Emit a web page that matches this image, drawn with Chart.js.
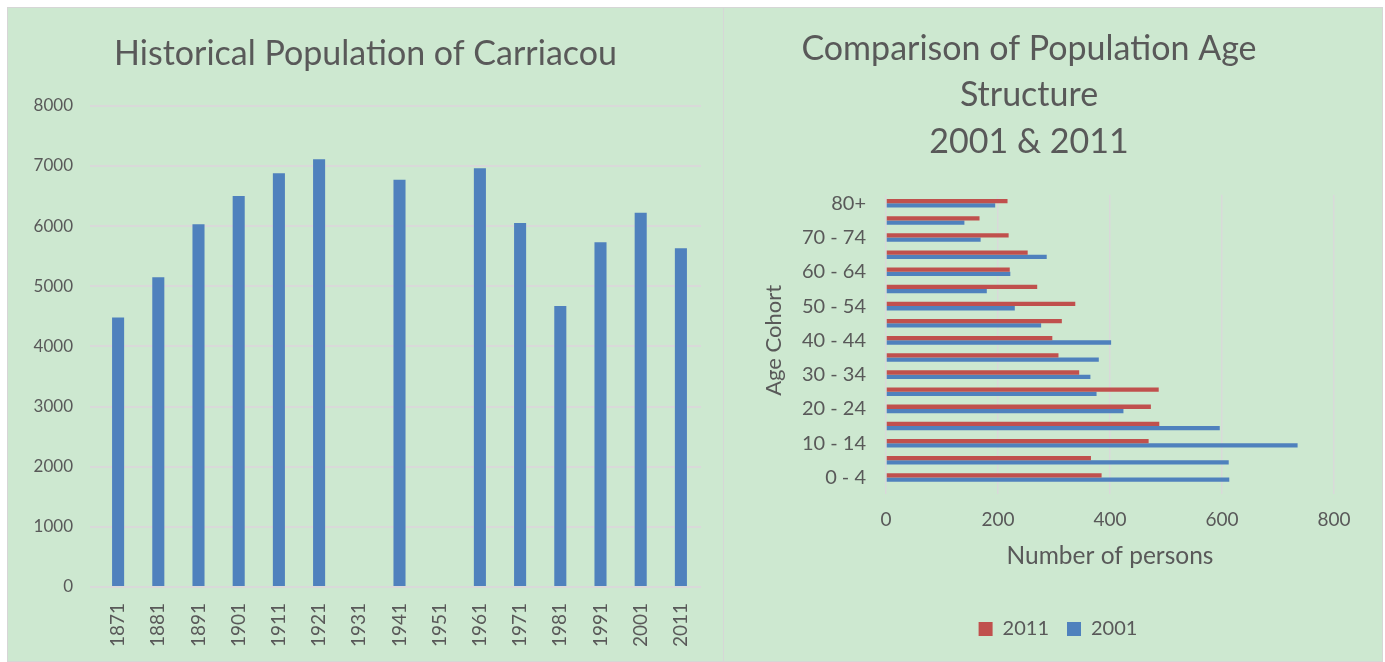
<!DOCTYPE html>
<html>
<head>
<meta charset="utf-8">
<script src="https://cdn.jsdelivr.net/npm/chart.js@4.4.0/dist/chart.umd.min.js"></script>
<style>
  body { margin: 0; background: #fff; width: 1385px; height: 662px; position: relative; overflow: hidden; }
  .panel { position: absolute; background: #cde8d0; border: 1px solid #d6d6d6; box-sizing: border-box; }
  #p1 { left: 7px; top: 7px; width: 717px; height: 655px; }
  #p2 { left: 723px; top: 7px; width: 660px; height: 655px; }
  canvas { display: block; }
</style>
</head>
<body>
<div class="panel" id="p1"><canvas id="graficoHistorico"></canvas></div>
<div class="panel" id="p2"><canvas id="graficoIdades"></canvas></div>
<script>
// population of Carriacou by census year (no data for 1931 and 1951)
const anos = ['1871', '1881', '1891', '1901', '1911', '1921', '1931', '1941', '1951', '1961', '1971', '1981', '1991', '2001', '2011']
const populacao = [4480, 5150, 6030, 6500, 6880, 7110, null, 6770, null, 6960, 6050, 4670, 5730, 6220, 5630]

// age cohorts, bottom to top
const faixas = ['0 - 4', '5 - 9', '10 - 14', '15 - 19', '20 - 24', '25 - 29', '30 - 34', '35 - 39', '40 - 44',
    '45 - 49', '50 - 54', '55 - 59', '60 - 64', '65 - 69', '70 - 74', '75 - 79', '80+']
const pessoas2011 = [385, 366, 469, 488, 473, 487, 345, 308, 297, 314, 338, 270, 221, 253, 219, 167, 217]
const pessoas2001 = [613, 612, 735, 596, 424, 376, 365, 380, 402, 277, 230, 180, 222, 287, 169, 140, 195]

const fonte = 'Lato'
const cinza = '#595959'
const grade = '#d9d9d9'

// the legend sits centred on the whole panel, not on the area left of the margin
const legendaCentrada = {
    id: 'legendaCentrada',
    afterLayout(chart) {
        chart.legend.left += 29
        chart.legend.right += 29
    }
}

function graficoHistorico(canvas) {
    canvas.width = 715
    canvas.height = 653
    return new Chart(canvas, {
        type: 'bar',
        data: {
            labels: anos,
            datasets: [{
                label: 'Population',
                data: populacao,
                backgroundColor: '#4f81bd',
                categoryPercentage: 1,
                barPercentage: 0.3
            }]
        },
        options: {
            responsive: false,
            animation: false,
            layout: { padding: 0 },
            plugins: {
                legend: { display: false },
                tooltip: { enabled: false },
                title: {
                    display: true,
                    text: 'Historical Population of Carriacou',
                    color: cinza,
                    font: { family: fonte, size: 34, weight: 'normal' },
                    padding: { top: 26, bottom: 31 }
                }
            },
            scales: {
                x: {
                    grid: { display: false },
                    border: { display: false },
                    ticks: { color: cinza, font: { family: fonte, size: 19 }, minRotation: 90, maxRotation: 90, padding: 8 },
                    afterFit: (s) => { s.height = 74 }
                },
                y: {
                    min: 0,
                    max: 8000,
                    grid: { color: grade, lineWidth: 2 },
                    border: { display: false },
                    ticks: { stepSize: 1000, color: cinza, font: { family: fonte, size: 17 }, padding: 17, callback: (v) => String(v) },
                    afterFit: (s) => { s.width = 90 }
                },
                // empty axis that keeps the right margin free
                margem: {
                    axis: 'y',
                    position: 'right',
                    grid: { display: false },
                    border: { display: false },
                    ticks: { display: false },
                    afterFit: (s) => { s.width = 22 }
                }
            }
        }
    })
}

function graficoIdades(canvas) {
    canvas.width = 658
    canvas.height = 653
    return new Chart(canvas, {
        type: 'bar',
        data: {
            labels: faixas,
            datasets: [{
                label: '2011',
                data: pessoas2011,
                backgroundColor: '#c0504d',
                categoryPercentage: 0.5,
                barPercentage: 1
            }, {
                label: '2001',
                data: pessoas2001,
                backgroundColor: '#4f81bd',
                categoryPercentage: 0.5,
                barPercentage: 1
            }]
        },
        options: {
            indexAxis: 'y',
            responsive: false,
            animation: false,
            layout: { padding: { left: 0, right: 48, bottom: 12 } },
            plugins: {
                tooltip: { enabled: false },
                title: {
                    display: true,
                    text: ['Comparison of Population Age', 'Structure', '2001 & 2011'],
                    color: cinza,
                    font: { family: fonte, size: 34, weight: 'normal', lineHeight: 1.36 },
                    padding: { top: 18, bottom: 30 }
                },
                legend: {
                    position: 'bottom',
                    labels: { color: cinza, font: { family: fonte, size: 20 }, boxWidth: 14, boxHeight: 14, padding: 18 }
                }
            },
            scales: {
                x: {
                    min: 0,
                    max: 800,
                    grid: { color: grade, lineWidth: 1.5 },
                    border: { display: false },
                    ticks: { stepSize: 200, color: cinza, font: { family: fonte, size: 19 }, padding: 14 },
                    title: { display: true, text: 'Number of persons', color: cinza, font: { family: fonte, size: 24.5 }, padding: { top: 0, bottom: 30 } },
                    afterFit: (s) => { s.height = 115 }
                },
                y: {
                    reverse: true,
                    grid: { display: false },
                    border: { display: false },
                    ticks: {
                        autoSkip: false,
                        color: cinza,
                        font: { family: fonte, size: 20 },
                        padding: 12,
                        callback: (v, i) => i % 2 == 0 ? faixas[i] : ''
                    },
                    title: { display: true, text: 'Age Cohort', color: cinza, font: { family: fonte, size: 22 }, padding: { top: 37, bottom: 0 } },
                    afterFit: (s) => { s.width = 162 }
                }
            }
        },
        plugins: [legendaCentrada]
    })
}

graficoHistorico(document.getElementById('graficoHistorico'))
graficoIdades(document.getElementById('graficoIdades'))
</script>
</body>
</html>
